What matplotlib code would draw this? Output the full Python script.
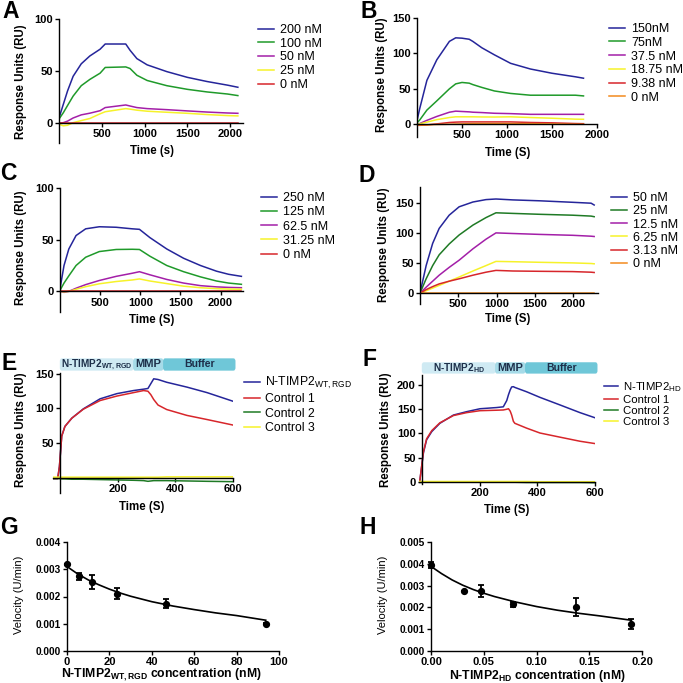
import matplotlib
matplotlib.use("Agg")
import matplotlib.pyplot as plt
from matplotlib.patches import FancyBboxPatch
from matplotlib.transforms import blended_transform_factory

plt.rcParams['font.family'] = ['Liberation Sans', 'DejaVu Sans']
plt.rcParams['mathtext.fontset'] = 'custom'
plt.rcParams['mathtext.rm'] = 'Liberation Sans'
plt.rcParams['mathtext.bf'] = 'Liberation Sans:bold'
plt.rcParams['mathtext.it'] = 'Liberation Sans:italic'

# ---------------- data ----------------
# A
a_time = [0, 50, 100, 165, 260, 360, 480, 540, 780, 830, 910, 1030, 1260, 1500, 1730, 1970, 2090]
a_200 = [5, 18, 31, 45, 57, 64.5, 71, 76, 76, 70, 62, 56, 49.5, 44, 40, 36.5, 34.5]
a_100 = [4, 10, 17, 26, 36, 42, 48, 53.5, 54, 52.5, 46, 41, 36, 32.5, 30, 28, 26.5]
a_50 = [0, 0.5, 2, 5, 8, 9.6, 12, 15, 17.5, 16.5, 15, 14, 13, 11.8, 10.7, 9.8, 9.5]
a_25 = [-1, -2.5, -2, 0.5, 2.5, 4.5, 9, 11, 14, 13.5, 12.5, 11.5, 10.5, 9.5, 8.3, 7.3, 7]
a_0 = [0, 0, 0, 0, 0, 0, 0, 0, 0, 0, 0, 0, 0, 0, 0, 0, 0]
a_labels = ['200 nM', '100 nM', '50 nM', '25 nM', '0 nM']

# B
b_time = [0, 30, 110, 220, 360, 430, 500, 580, 620, 720, 860, 1040, 1260, 1500, 1760, 1850]
b_150 = [5, 22, 62, 91, 117, 122, 121.5, 120, 117, 108, 98, 86, 78, 72, 67, 65]
b_75 = [2, 6, 20, 33, 50, 57, 59, 58, 56, 52, 47, 43.5, 41, 41, 41, 40]
b_375 = [0, 1, 5.5, 11, 17, 18.5, 18, 17.5, 17, 16.5, 15.5, 15, 14, 14, 14, 14]
b_1875 = [0, 0.5, 3, 6.5, 9.5, 10.5, 10.5, 10.5, 10.5, 10.3, 10.2, 10.5, 9.5, 8.5, 7.2, 7]
b_938 = [-1.5, -1.5, -1, 0.5, 2.5, 3, 3.3, 3.3, 3.3, 3.3, 3.3, 3.3, 2.5, 2, 1, 0.8]
b_0 = [-1, -1, -0.8, -0.3, 0, 0.3, 0.5, 0.8, 1, 1, 1, 1, 0.8, 0.5, 0, 0]
b_labels = ['150nM', '75nM', '37.5 nM', '18.75 nM', '9.38 nM', '0 nM']

# C
c_time = [0, 50, 110, 200, 320, 490, 700, 900, 990, 1120, 1330, 1540, 1750, 1950, 2100, 2260]
c_250 = [2.5, 25, 41, 54, 60.5, 62.5, 62, 60.5, 60, 52, 41, 32, 25, 19.5, 16.5, 14.5]
c_125 = [1, 8, 15, 25, 33, 38.5, 40.5, 40.7, 40.5, 34, 25, 19, 14, 10, 8, 6.8]
c_625 = [0, -1, 0, 3, 6.5, 10.5, 14.5, 17.5, 19, 16, 11.5, 8, 5.5, 4.3, 3.8, 3.5]
c_3125 = [0, -0.5, 0, 2, 4.5, 7.3, 9.5, 11, 12, 10, 7.5, 5, 3.5, 2.6, 2.2, 2]
c_0 = [0, 0, 0, 0, 0, 0, 0, 0, 0, 0, 0, 0, 0, 0, 0, 0]
c_labels = ['250 nM', '125 nM', '62.5 nM', '31.25 nM', '0 nM']

# D
d_time = [0, 80, 165, 250, 380, 510, 690, 860, 990, 1210, 1560, 1990, 2230, 2270]
d_50 = [0, 46, 83, 108, 130, 144, 152, 156, 157, 155.5, 154, 151.5, 150, 147]
d_25 = [0, 24, 46, 64, 82, 97, 113.5, 126, 134, 133, 131.5, 130, 128.5, 127.5]
d_125 = [0, 10, 20, 30, 43, 55, 74, 90, 100.5, 99.5, 98, 96.5, 95, 94.5]
d_625 = [0, 4, 8.5, 13, 20, 27, 37, 46, 53, 52.5, 51.5, 50.5, 49.5, 49]
d_313 = [0, 6, 11, 15.5, 20, 24, 30, 35, 38, 37, 36.5, 36, 35, 34.5]
d_0 = [0, 0, 0, 0, 0, 0, 0, 0, 0, 0, 0, 0, 0, 0]
d_labels = ['50 nM', '25 nM', '12.5 nM', '6.25 nM', '3.13 nM', '0 nM']

# E
e_time = [-25, -8, -2, 6, 17, 41, 81, 139, 197, 255, 290, 305, 315, 325, 340, 370, 440, 510, 600]
e_timp = [-1.5, -1.5, 16, 60, 74, 86, 99.5, 114, 121.5, 126, 128, 129, 136, 143, 142, 138, 131, 123, 110.5]
e_ctrl1 = [-1.5, -1.5, 16, 60, 74, 86, 99, 111.5, 118, 123, 126, 125, 120, 113, 105, 98.5, 90, 84, 76]
e_ctrl2 = [-1.5, -1.5, -1.5, -2, -2, -2.5, -2.5, -3, -3.5, -4, -4.5, -5.5, -5, -4.5, -4.5, -4.5, -5, -5.5, -6]
e_ctrl3 = [0.5, 0.5, 0.5, 0.5, 0.5, 0.5, 0.5, 0.5, 0.5, 0.5, 0.5, 0.5, 0.5, 0.5, 0.5, 1, 1, 1, 1]
e_labels = [r'N-TIMP2$_{\mathrm{WT,RGD}}$', 'Control 1', 'Control 2', 'Control 3']

# F
f_time = [-8, 5, 16, 34, 62, 109, 155, 201, 259, 282, 294, 300, 306, 311, 317, 322, 363, 409, 478, 548, 602]
f_timp = [0, 60, 87, 104, 121, 138, 145, 151, 153.5, 155, 168, 180, 190, 196, 196.5, 195, 186, 174.5, 159, 143, 132]
f_ctrl1 = [0, 62, 89, 106, 122, 137, 143, 147, 148, 148.5, 150, 151, 146, 138, 125, 121, 111, 101, 92.5, 84, 79]
f_ctrl2 = [0, 0, 0, 0, 0, -0.5, -0.5, -0.5, -0.5, -0.5, -0.5, -0.5, -0.5, -0.5, -0.5, -0.5, -1, -1, -1, -1, -1.5]
f_ctrl3 = [1, 1, 1, 1, 1, 1, 1, 1, 1, 1, 1, 1, 1, 1, 1, 1, 1, 0.5, 0.5, 0.5, 0.5]
f_labels = [r'N-TIMP2$_{\mathrm{HD}}$', 'Control 1', 'Control 2', 'Control 3']

# injection phases (s)
phase_start = [0, 254, 358]
phase_end = [254, 358, 608]

# G
g_conc = [0, 5.86, 11.72, 23.44, 46.88, 93.75]
g_vel = [0.00318, 0.00274, 0.00254, 0.00211, 0.00174, 0.00100]
g_err = [0.00003, 0.00012, 0.00026, 0.00021, 0.00015, 0.00002]
g_fit_x = [0, 5, 10, 15, 20, 25, 30, 40, 50, 60, 70, 80, 93.75]
g_fit_y = [0.00310, 0.00283, 0.00261, 0.00243, 0.00227, 0.00213, 0.00201, 0.00181, 0.00165, 0.00152, 0.00140, 0.00130, 0.00113]

# H
h_conc = [0, 0.031, 0.047, 0.078, 0.137, 0.19]
h_vel = [0.00395, 0.00275, 0.00276, 0.00214, 0.00202, 0.00125]
h_err = [0.00014, 0, 0.00028, 0.00012, 0.00040, 0.00023]
h_fit_x = [0, 0.01, 0.02, 0.03, 0.04, 0.05, 0.06, 0.08, 0.10, 0.12, 0.14, 0.16, 0.19]
h_fit_y = [0.00388, 0.00355, 0.00326, 0.00302, 0.00282, 0.00265, 0.00250, 0.00225, 0.00204, 0.00187, 0.00173, 0.00161, 0.00141]

# ---------------- styling ----------------
W = 683
navy = '#25259a'
green = '#1f9a2a'
purple = '#a31fa8'
yellow = '#f6f22a'
red = '#d7262b'
orange = '#f28a1e'
dkgreen = '#1f7a25'

fig = plt.figure(figsize=(6.83, 6.83), dpi=100)


def place(l, t, r, b):
    return fig.add_axes([l / W, 1 - b / W, (r - l) / W, (b - t) / W])


def style(ax, size=8):
    ax.spines[['top', 'right']].set_visible(False)
    for s in ['left', 'bottom']:
        ax.spines[s].set_linewidth(1.0)
    ax.tick_params(direction='out', length=3, width=1, pad=1.5, labelsize=size)
    for lab in ax.get_xticklabels() + ax.get_yticklabels():
        lab.set_fontweight('bold')


def labels(ax, xl, xx, xy, yl, yx, yy, size=8.3, yweight='bold'):
    ax.set_xlabel(xl, fontsize=size, fontweight='bold')
    ax.set_ylabel(yl, fontsize=size, fontweight=yweight)
    ax.xaxis.set_label_coords(xx / W, 1 - xy / W, transform=fig.transFigure)
    ax.yaxis.set_label_coords(yx / W, 1 - yy / W, transform=fig.transFigure)
    ax.xaxis.label.set_va('center')
    ax.yaxis.label.set_va('center')


def legend(ax, x, y, spacing=0.05, size=9, hl=1.3):
    ax.legend(loc='upper left', bbox_to_anchor=(x / W, 1 - y / W),
              bbox_transform=fig.transFigure, frameon=False, fontsize=size,
              borderaxespad=0, borderpad=0, handlelength=hl,
              handletextpad=0.45, labelspacing=spacing)


def letter(x, y, s):
    fig.text(x / W, 1 - y / W, s, fontsize=16.5, fontweight='bold',
             ha='center', va='center')


lw = 1.1

# ---- A ----
ax = place(59, 19, 243, 143)
for ys, c, lab in zip([a_200, a_100, a_50, a_25, a_0], [navy, green, purple, yellow, red], a_labels):
    ax.plot(a_time, ys, color=c, lw=lw, label=lab)
ax.set_xlim(0, 2150)
ax.set_ylim(-19, 100)
ax.spines['bottom'].set_position(('data', 0))
ax.set_xticks([500, 1000, 1500, 2000])
ax.set_yticks([0, 50, 100])
style(ax)
labels(ax, 'Time (s)', 152, 151, 'Response Units (RU)', 21, 82)
legend(ax, 258, 24, spacing=0.14)
letter(11, 12, 'A')

# ---- B ----
ax = place(417, 18, 597, 137)
for ys, c, lab in zip([b_150, b_75, b_375, b_1875, b_938, b_0],
                      [navy, green, purple, yellow, red, orange], b_labels):
    ax.plot(b_time, ys, color=c, lw=lw, label=lab)
ax.set_xlim(0, 2000)
ax.set_ylim(-18, 150)
ax.spines['bottom'].set_position(('data', 0))
ax.set_xticks([500, 1000, 1500, 2000])
ax.set_yticks([0, 50, 100, 150])
style(ax)
labels(ax, 'Time (S)', 508, 153, 'Response Units (RU)', 382, 75)
legend(ax, 609, 23, spacing=0.14)
letter(369, 11, 'B')

# ---- C ----
ax = place(60, 188, 243, 312)
for ys, c, lab in zip([c_250, c_125, c_625, c_3125, c_0], [navy, green, purple, yellow, red], c_labels):
    ax.plot(c_time, ys, color=c, lw=lw, label=lab)
ax.set_xlim(0, 2280)
ax.set_ylim(-20, 100)
ax.spines['bottom'].set_position(('data', 0))
ax.set_xticks([500, 1000, 1500, 2000])
ax.set_yticks([0, 50, 100])
style(ax)
labels(ax, 'Time (S)', 152, 320, 'Response Units (RU)', 21, 248)
legend(ax, 261, 192, spacing=0.18)
letter(8, 174, 'C')

# ---- D ----
ax = place(420, 187, 598, 304)
for ys, c, lab in zip([d_50, d_25, d_125, d_625, d_313, d_0],
                      [navy, dkgreen, purple, yellow, red, orange], d_labels):
    ax.plot(d_time, ys, color=c, lw=lw, label=lab)
ax.set_xlim(0, 2320)
ax.set_ylim(-18, 177)
ax.spines['bottom'].set_position(('data', 0))
ax.set_xticks([500, 1000, 1500, 2000])
ax.set_yticks([0, 50, 100, 150])
style(ax)
labels(ax, 'Time (S)', 508, 319, 'Response Units (RU)', 384, 245)
legend(ax, 611, 192, spacing=0.1)
letter(367, 176, 'D')


def header(ax, first):
    tr = blended_transform_factory(ax.transData, ax.transAxes)
    cols = ['#cfeaf3', '#a6dbe8', '#6fc7d8']
    names = [first, 'MMP', 'Buffer']
    sizes = [7.2, 8, 7.5]
    for x0, x1, c, n, fs in zip(phase_start, phase_end, cols, names, sizes):
        ax.add_patch(FancyBboxPatch((x0 + 3, 1.025), x1 - x0 - 6, 0.085,
                                    boxstyle='round,pad=0,rounding_size=4',
                                    mutation_aspect=0.004, transform=tr,
                                    facecolor=c, edgecolor=c, lw=1.5, clip_on=False))
        ax.text((x0 + x1) / 2, 1.068, n, transform=tr, ha='center', va='center',
                fontsize=fs, fontweight='bold', color='#1d2f4a')


# ---- E ----
ax = place(52.8, 372.6, 233, 492.7)
for ys, c, lab in zip([e_timp, e_ctrl1, e_ctrl2, e_ctrl3], [navy, red, dkgreen, yellow], e_labels):
    ax.plot(e_time, ys, color=c, lw=lw, label=lab)
ax.set_xlim(-25, 600)
ax.set_ylim(-22, 152)
ax.spines['bottom'].set_position(('data', 0))
ax.spines['left'].set_position(('data', 0))
ax.set_xticks([200, 400, 600])
ax.set_yticks([50, 100, 150])
style(ax)
labels(ax, 'Time (S)', 142, 507, 'Response Units (RU)', 21, 430)
legend(ax, 244, 375, spacing=0.19, size=8.8)
header(ax, r'N-TIMP2$_{\mathbf{WT,RGD}}$')
letter(9, 364, 'E')

# ---- F ----
ax = place(419.1, 375.3, 595, 484.4)
for ys, c, lab in zip([f_timp, f_ctrl1, f_ctrl2, f_ctrl3], [navy, red, dkgreen, yellow], f_labels):
    ax.plot(f_time, ys, color=c, lw=lw, label=lab)
ax.set_xlim(-10, 600)
ax.set_ylim(-5, 220)
ax.spines['bottom'].set_position(('data', 0))
ax.spines['left'].set_position(('data', 0))
ax.set_xticks([200, 400, 600])
ax.set_yticks([0, 50, 100, 150, 200])
style(ax)
labels(ax, 'Time (S)', 507, 510, 'Response Units (RU)', 386, 430)
legend(ax, 604, 380, spacing=0.1, size=8.2, hl=1.2)
header(ax, r'N-TIMP2$_{\mathbf{HD}}$')
letter(370, 359, 'F')

# ---- G ----
ax = place(67, 542, 279, 651)
ax.plot(g_fit_x, g_fit_y, color='black', lw=1.2)
ax.errorbar(g_conc, g_vel, yerr=g_err, fmt='o', color='black', ms=4.2,
            capsize=2.5, elinewidth=1.3, capthick=1.3, clip_on=False)
ax.set_xlim(0, 100)
ax.set_ylim(0, 0.004)
ax.set_xticks([0, 20, 40, 60, 80, 100])
ax.set_yticks([0, 0.001, 0.002, 0.003, 0.004])
ax.yaxis.set_major_formatter(matplotlib.ticker.FormatStrFormatter('%.3f'))
style(ax, size=7.3)
ax.tick_params(axis='x', labelsize=8)
labels(ax, r'N-TIMP2$_{\mathbf{WT,RGD}}$ concentration (nM)', 161, 675,
       'Velocity (U/min)', 19, 595, size=8.8, yweight='normal')
ax.yaxis.label.set_fontsize(8)
letter(9, 527, 'G')

# ---- H ----
ax = place(431, 542, 642, 651)
ax.plot(h_fit_x, h_fit_y, color='black', lw=1.2)
ax.errorbar(h_conc, h_vel, yerr=h_err, fmt='o', color='black', ms=4.2,
            capsize=2.5, elinewidth=1.3, capthick=1.3, clip_on=False)
ax.set_xlim(0, 0.2)
ax.set_ylim(0, 0.005)
ax.set_xticks([0, 0.05, 0.10, 0.15, 0.20])
ax.set_yticks([0, 0.001, 0.002, 0.003, 0.004, 0.005])
ax.xaxis.set_major_formatter(matplotlib.ticker.FormatStrFormatter('%.2f'))
ax.yaxis.set_major_formatter(matplotlib.ticker.FormatStrFormatter('%.3f'))
style(ax, size=7.3)
ax.tick_params(axis='x', labelsize=8)
labels(ax, r'N-TIMP2$_{\mathbf{HD}}$ concentration (nM)', 537, 676,
       'Velocity (U/min)', 383, 595, size=8.8, yweight='normal')
ax.yaxis.label.set_fontsize(8)
letter(368, 527, 'H')

fig.savefig('out.png', dpi=100)
